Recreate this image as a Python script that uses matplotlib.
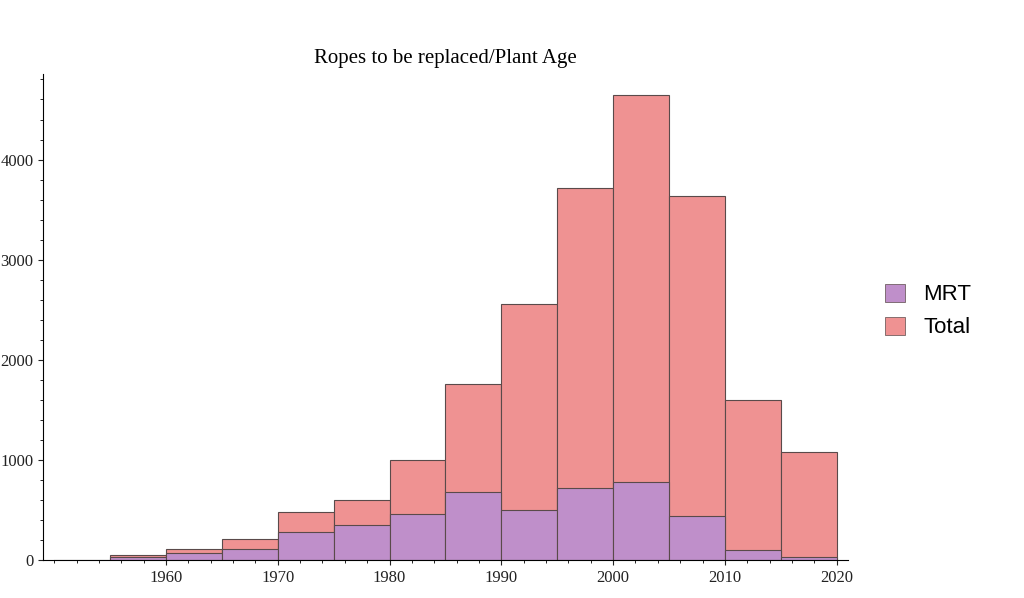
import matplotlib
matplotlib.use("Agg")
import matplotlib.pyplot as plt
from matplotlib.ticker import MultipleLocator
from matplotlib.patches import Patch

bin_starts = [1955,1960,1965,1970,1975,1980,1985,1990,1995,2000,2005,2010,2015]
total = [50,110,210,480,600,1000,1760,2560,3720,4640,3640,1600,1080]
mrt = [30,70,110,280,350,460,680,500,720,780,440,100,30]
xticks = [1960,1970,1980,1990,2000,2010,2020]
yticks = [0,1000,2000,3000,4000]

fig = plt.figure(figsize=(10.24,5.98), dpi=100)
ax = fig.add_axes([0.042,0.0635,0.786,0.812])
cT = "#ef9292"; cM = "#bf8fca"; ec = "#5a4a4a"
ax.bar(bin_starts, total, width=5, align="edge", color=cT, edgecolor=ec, linewidth=0.8)
ax.bar(bin_starts, mrt, width=5, align="edge", color=cM, edgecolor=ec, linewidth=0.8)
ax.plot([1950,1955],[0,0],color=ec,lw=0.8)
ax.set_xlim(1949,2021)
ax.set_ylim(0,4850)
ax.set_xticks(xticks)
ax.set_yticks(yticks)
ax.xaxis.set_minor_locator(MultipleLocator(2))
ax.yaxis.set_minor_locator(MultipleLocator(200))
for s in ["top","right"]:
    ax.spines[s].set_visible(False)
ax.tick_params(labelsize=12, colors="#222222")
for l in ax.get_xticklabels()+ax.get_yticklabels():
    l.set_fontfamily("Liberation Serif")
ax.tick_params(which="minor", length=2)
ax.set_title("Ropes to be replaced/Plant Age", fontfamily="Liberation Serif", fontsize=15, pad=8)
fig.legend(handles=[Patch(facecolor=cM, edgecolor=ec, lw=0.5, label="MRT"),
                    Patch(facecolor=cT, edgecolor=ec, lw=0.5, label="Total")],
           loc="center left", bbox_to_anchor=(0.845,0.48), frameon=False,
           prop={"family":"Liberation Sans","size":16}, handlelength=0.9, handleheight=0.9)
fig.savefig("out.png")
